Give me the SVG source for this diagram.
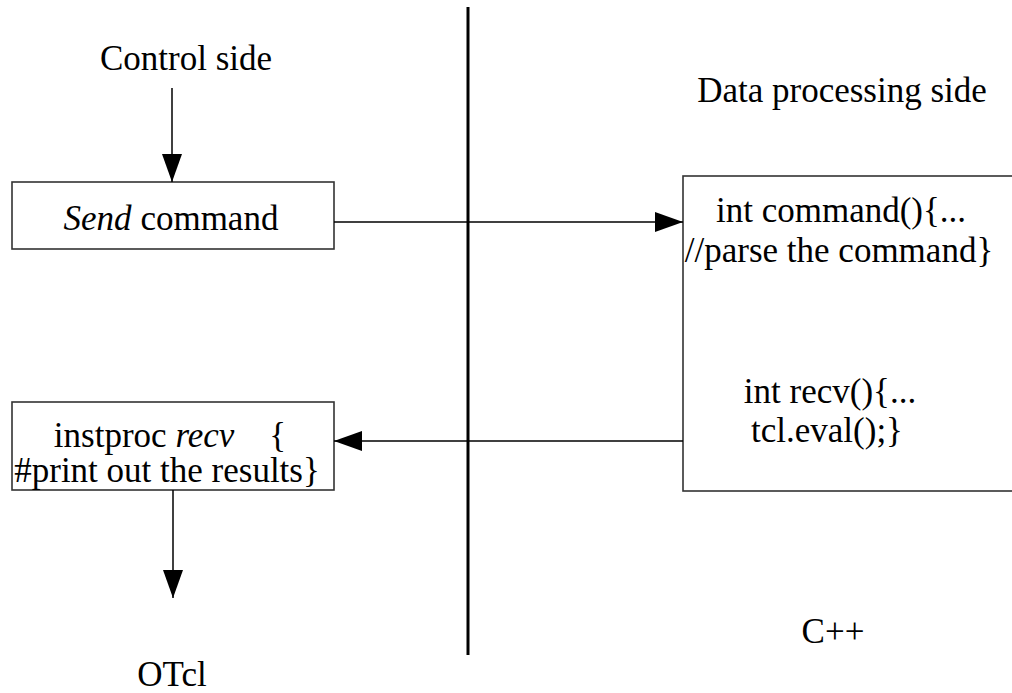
<svg xmlns="http://www.w3.org/2000/svg" width="1012" height="693" viewBox="0 0 1012 693">
<style>
text{font-family:"Liberation Serif","Times New Roman",serif;font-size:35px;fill:#000}
.box{fill:#fff;stroke:#333;stroke-width:1.6}
.ln{stroke:#000;stroke-width:1.5;fill:none}
</style>
<defs>
<marker id="ah" markerUnits="userSpaceOnUse" markerWidth="28" markerHeight="20" refX="28" refY="10" orient="auto">
<path d="M0,0 L28,10 L0,20 Z" fill="#000"/>
</marker>
</defs>
<rect width="1012" height="693" fill="#fff"/>
<g id="divider"><line x1="468" y1="7" x2="468" y2="655" stroke="#000" stroke-width="3"/></g>
<g id="labels">
<text x="186" y="70" text-anchor="middle">Control side</text>
<text x="842" y="102" text-anchor="middle">Data processing side</text>
<text x="172" y="686" text-anchor="middle">OTcl</text>
<text x="833" y="643" text-anchor="middle">C++</text>
</g>
<g id="send">
<rect class="box" x="12" y="182" width="322" height="67"/>
<text x="171" y="230" text-anchor="middle"><tspan font-style="italic">Send</tspan> command</text>
</g>
<g id="instproc">
<rect class="box" x="12" y="402" width="322" height="88"/>
<text x="170" y="447" text-anchor="middle" xml:space="preserve">instproc <tspan font-style="italic">recv</tspan>    {</text>
<text x="167" y="482" text-anchor="middle">#print out the results}</text>
</g>
<g id="cpp">
<rect class="box" x="683" y="176" width="340" height="315"/>
<text x="841" y="222" text-anchor="middle">int command(){...</text>
<text x="839" y="262" text-anchor="middle">//parse the command}</text>
<text x="830" y="403" text-anchor="middle">int recv(){...</text>
<text x="827" y="442" text-anchor="middle">tcl.eval();}</text>
</g>
<g id="connectors">
<line class="ln" x1="172" y1="88" x2="172" y2="182" marker-end="url(#ah)"/>
<line class="ln" x1="334" y1="222" x2="683" y2="222" marker-end="url(#ah)"/>
<line class="ln" x1="683" y1="441" x2="334" y2="441" marker-end="url(#ah)"/>
<line class="ln" x1="173" y1="490" x2="173" y2="598" marker-end="url(#ah)"/>
</g>
</svg>
